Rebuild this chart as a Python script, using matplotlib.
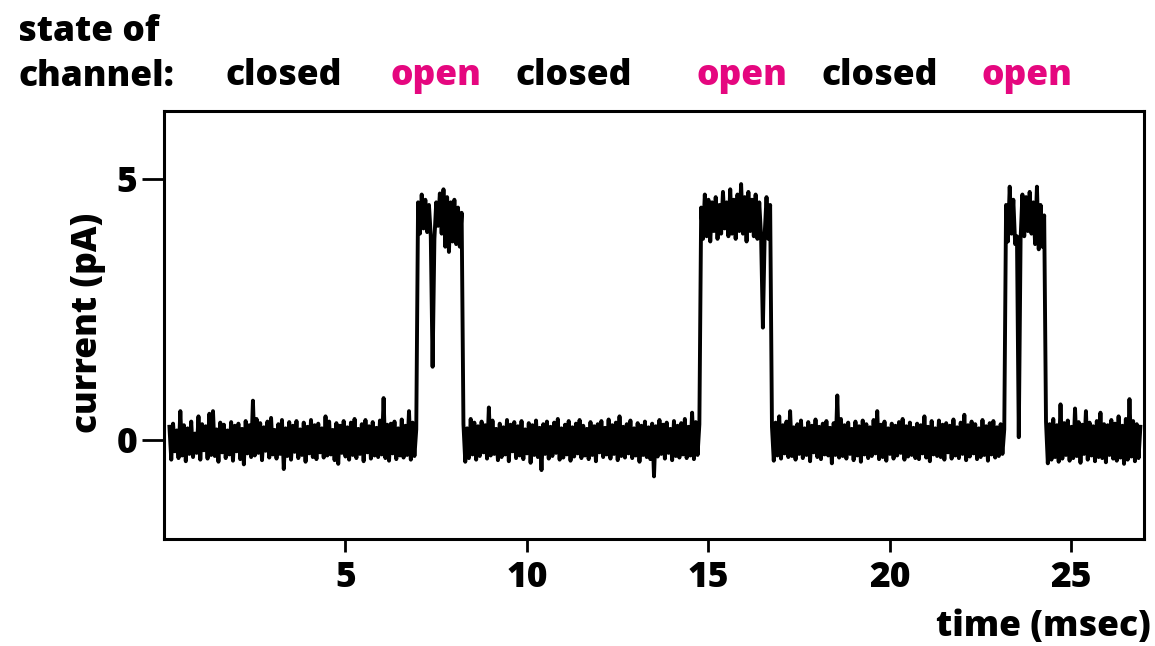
import numpy as np
import matplotlib
matplotlib.use("Agg")
import matplotlib.pyplot as plt

# ---- data (current in pA, sampled every 0.05 ms starting at 0.15 ms) ----
t_start = 0.15
dt = 0.05

closed_1 = [
    0.25, -0.38, 0.31, -0.22, 0.18, -0.35, 0.55, -0.30, 0.28, -0.41,
    0.22, -0.27, 0.35, -0.33, 0.12, -0.25, 0.45, -0.38, 0.30, -0.20,
    0.26, -0.36, 0.50, -0.29, 0.55, -0.31, 0.20, -0.42, 0.33, -0.24,
    0.29, -0.35, 0.18, -0.28, 0.34, -0.40, 0.27, -0.22, 0.31, -0.37,
    0.21, -0.47, 0.36, -0.26, 0.28, -0.33, 0.75, -0.30, 0.40, -0.25,
    0.32, -0.39, 0.24, -0.21, 0.35, -0.34, 0.42, -0.28, 0.19, -0.36,
    0.30, -0.27, 0.38, -0.56, 0.22, -0.31, 0.34, -0.38, 0.27, -0.23,
    0.36, -0.35, 0.20, -0.29, 0.33, -0.42, 0.25, -0.26, 0.38, -0.33,
    0.28, -0.37, 0.31, -0.24, 0.22, -0.34, 0.45, -0.30, 0.35, -0.28,
    0.19, -0.39, 0.32, -0.46, 0.27, -0.25, 0.36, -0.32, 0.24, -0.38,
    0.33, -0.29, 0.40, -0.35, 0.21, -0.27, 0.30, -0.41, 0.38, -0.24,
    0.26, -0.36, 0.34, -0.30, 0.23, -0.33, 0.37, -0.28, 0.80, -0.35,
    0.29, -0.40, 0.31, -0.26, 0.35, -0.37, 0.22, -0.30, 0.39, -0.34,
    0.27, -0.29, 0.55, -0.38, 0.33, -0.31, 0.20,
]
open_1 = [
    4.55, 3.95, 4.70, 4.05, 4.60, 3.98, 4.50, 3.90, 1.40, 3.85,
    4.55, 4.10, 4.72, 3.95, 4.80, 3.70, 4.65, 3.60, 4.55, 3.80,
    4.60, 3.75, 4.45, 3.70, 4.35,
]
closed_2 = [
    0.30, -0.42, 0.22, -0.35, 0.40, -0.28, 0.33, -0.38, 0.26, -0.31,
    0.35, -0.24, 0.28, -0.36, 0.62, -0.30, 0.37, -0.27, 0.21, -0.39,
    0.31, -0.33, 0.24, -0.28, 0.38, -0.41, 0.29, -0.22, 0.34, -0.35,
    0.26, -0.30, 0.36, -0.37, 0.20, -0.26, 0.32, -0.44, 0.28, -0.29,
    0.37, -0.33, 0.23, -0.58, 0.30, -0.27, 0.35, -0.36, 0.25, -0.31,
    0.33, -0.25, 0.40, -0.38, 0.22, -0.34, 0.29, -0.28, 0.36, -0.40,
    0.24, -0.32, 0.31, -0.26, 0.38, -0.35, 0.27, -0.30, 0.21, -0.37,
    0.34, -0.29, 0.26, -0.41, 0.30, -0.24, 0.36, -0.33, 0.23, -0.28,
    0.39, -0.36, 0.28, -0.27, 0.33, -0.39, 0.45, -0.31, 0.25, -0.34,
    0.30, -0.26, 0.37, -0.35, 0.22, -0.30, 0.32, -0.42, 0.27, -0.29,
    0.35, -0.33, 0.24, -0.37, 0.31, -0.70, 0.26, -0.32, 0.38, -0.27,
    0.29, -0.36, 0.33, -0.25, 0.21, -0.39, 0.36, -0.31, 0.27, -0.34,
    0.32, -0.28, 0.40, -0.35, 0.25, -0.30, 0.52, -0.37, 0.34, -0.29,
    0.30,
]
open_2 = [
    4.45, 3.85, 4.70, 3.90, 4.60, 3.80, 4.55, 4.00, 4.65, 3.85,
    4.50, 3.95, 4.75, 4.05, 4.55, 3.90, 4.80, 3.95, 4.60, 3.85,
    4.70, 4.00, 4.90, 3.95, 4.65, 3.80, 4.75, 4.00, 4.60, 3.90,
    4.70, 3.85, 4.55, 3.90, 2.15, 3.95, 4.65, 3.85, 4.50,
]
closed_3 = [
    0.25, -0.40, 0.33, -0.30, 0.45, -0.36, 0.28, -0.26, 0.35, -0.33,
    0.55, -0.31, 0.24, -0.38, 0.30, -0.27, 0.37, -0.35, 0.22, -0.29,
    0.34, -0.41, 0.27, -0.24, 0.39, -0.33, 0.25, -0.37, 0.31, -0.28,
    0.36, -0.30, 0.23, -0.45, 0.32, -0.29, 0.85, -0.34, 0.40, -0.31,
    0.28, -0.36, 0.33, -0.27, 0.21, -0.39, 0.35, -0.30, 0.26, -0.42,
    0.37, -0.28, 0.30, -0.35, 0.24, -0.31, 0.38, -0.26, 0.55, -0.37,
    0.29, -0.33, 0.35, -0.40, 0.22, -0.27, 0.31, -0.36, 0.27, -0.30,
    0.34, -0.25, 0.40, -0.38, 0.26, -0.32, 0.33, -0.29, 0.23, -0.35,
    0.31, -0.37, 0.28, -0.26, 0.45, -0.34, 0.25, -0.41, 0.36, -0.28,
    0.22, -0.31, 0.37, -0.33, 0.29, -0.38, 0.32, -0.24, 0.27, -0.36,
    0.39, -0.30, 0.24, -0.35, 0.33, -0.27, 0.48, -0.39, 0.28, -0.32,
    0.35, -0.26, 0.30, -0.37, 0.22, -0.33, 0.38, -0.29, 0.26, -0.40,
    0.32, -0.28, 0.36, -0.34, 0.24, -0.31, 0.30, -0.27, 0.20,
]
open_3 = [
    4.50, 3.80, 4.85, 3.95, 4.60, 3.75, 3.90, 0.05, 3.85, 4.70,
    3.90, 4.65, 4.00, 4.75, 3.95, 4.55, 3.75, 4.85, 3.65, 4.50,
    3.70, 4.30,
]
closed_4 = [
    0.35, -0.45, 0.30, -0.38, 0.40, -0.33, 0.28, -0.42, 0.68, -0.36,
    0.32, -0.29, 0.37, -0.40, 0.25, -0.35, 0.60, -0.31, 0.34, -0.44,
    0.29, -0.27, 0.55, -0.38, 0.33, -0.30, 0.26, -0.41, 0.36, -0.33,
    0.52, -0.35, 0.30, -0.43, 0.28, -0.29, 0.38, -0.36, 0.31, -0.40,
    0.45, -0.34, 0.27, -0.46, 0.40, -0.38, 0.78, -0.32, 0.36, -0.41,
    0.30, -0.35, 0.25,
]

state_labels = ["closed", "open", "closed", "open", "closed", "open"]
x_ticks = [5, 10, 15, 20, 25]
y_ticks = [0, 5]

# ---- build trace ----
current = np.array(closed_1 + open_1 + closed_2 + open_2 + closed_3 + open_3 + closed_4)
time = t_start + dt * np.arange(len(current))

plt.rcParams['font.family'] = ['Open Sans', 'DejaVu Sans']
plt.rcParams['font.weight'] = 'bold'

W, H = 1155, 646
fig = plt.figure(figsize=(W / 100, H / 100), dpi=100)
ax = fig.add_axes([164 / W, 1 - 539 / H, (1144 - 164) / W, (539 - 111) / H])

ax.plot(time, current, color='black', lw=2.8, solid_joinstyle='round')
ax.set_xlim(0, 27)
ax.set_ylim(-1.9, 6.3)

fs = 25.5
fw = 'extra bold'

ax.set_xticks(x_ticks)
ax.set_yticks(y_ticks)
ax.set_xticklabels([str(v) for v in x_ticks])
ax.set_yticklabels([str(v) for v in y_ticks])
for sp in ax.spines.values():
    sp.set_linewidth(2.2)
ax.tick_params(axis='x', direction='out', length=9.5, width=2.0, pad=5.5, labelsize=fs)
ax.tick_params(axis='y', direction='out', length=16, width=2.0, pad=3, labelsize=fs)
for lab in ax.get_xticklabels() + ax.get_yticklabels():
    lab.set_fontweight(fw)

magenta = '#E5077F'
fig.text(18 / W, 1 - 41 / H, "state of", ha='left', va='baseline', fontsize=fs, fontweight=fw)
fig.text(18 / W, 1 - 86 / H, "channel:", ha='left', va='baseline', fontsize=fs, fontweight=fw)
label_x = [284, 436, 574, 742, 880, 1027]
for lx, lab in zip(label_x, state_labels):
    fig.text(lx / W, 1 - 85 / H, lab, ha='center', va='baseline', fontsize=fs,
             fontweight=fw, color=magenta if lab == 'open' else 'black')

fig.text(88 / W, 1 - 323 / H, "current (pA)", rotation=90, ha='center', va='center',
         fontsize=fs, fontweight=fw)
fig.text(1151 / W, 1 - 627 / H, "time (msec)", ha='right', va='center',
         fontsize=fs, fontweight=fw)

fig.savefig("out.png", dpi=100)
